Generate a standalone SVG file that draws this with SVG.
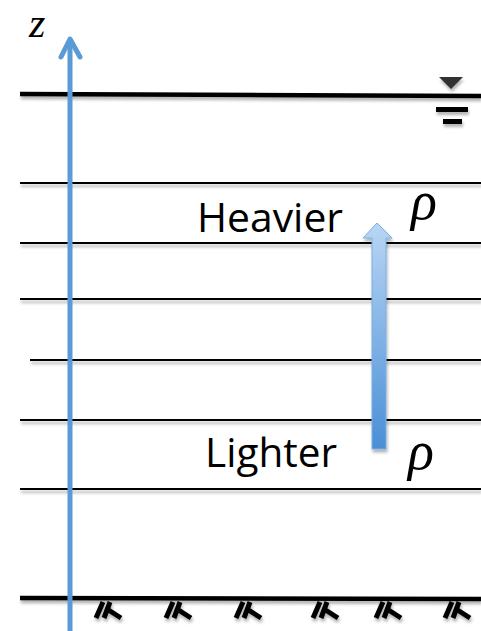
<svg xmlns="http://www.w3.org/2000/svg" width="481" height="631" viewBox="0 0 481 631">
<defs>
<style>
.thick{stroke:#000;stroke-width:4.5;fill:none}
.thin{stroke:#000;stroke-width:2;fill:none}
.hatch{stroke:#000;stroke-width:5;fill:none}
.lbl{font-family:"Open Sans","Liberation Sans",sans-serif;font-size:40px;fill:#000}
.sym{font-family:"Liberation Serif","DejaVu Serif",serif;font-style:italic;fill:#000}
</style>
<filter id="sh" x="-5%" y="-50%" width="110%" height="300%">
<feDropShadow dx="1" dy="3" stdDeviation="1.5" flood-color="#000" flood-opacity="0.3"/>
</filter>
<linearGradient id="ag" x1="0" y1="0" x2="0" y2="1">
<stop offset="0" stop-color="#b9d6f5"/>
<stop offset="1" stop-color="#4a8fd6"/>
</linearGradient>
</defs>
<rect width="481" height="631" fill="#fff"/>
<g id="layers" filter="url(#sh)">
<line class="thick" x1="20" y1="94" x2="481" y2="96"/>
<line class="thin" x1="20" y1="183" x2="481" y2="183"/>
<line class="thin" x1="20" y1="243" x2="481" y2="243"/>
<line class="thin" x1="20" y1="299" x2="481" y2="299"/>
<line class="thin" x1="30" y1="360" x2="481" y2="360"/>
<line class="thin" x1="20" y1="420" x2="481" y2="420"/>
<line class="thin" x1="20" y1="489" x2="481" y2="489"/>
<line class="thick" x1="20" y1="598" x2="481" y2="599"/>
</g>
<g id="surface-symbol" filter="url(#sh)">
<polygon points="439,77 463,77 451,89" fill="#333"/>
<rect x="436" y="107" width="32" height="5" fill="#000"/>
<rect x="443" y="119" width="19" height="5" fill="#000"/>
</g>
<g id="bed-hatching" filter="url(#sh)">
<g id="h1" transform="translate(93,0)"><path class="hatch" d="M10,602 L3,618 M17,602 L11,618 M14,609 L28,618"/></g>
<g id="h2" transform="translate(163,0)"><path class="hatch" d="M10,602 L3,618 M17,602 L11,618 M14,609 L28,618"/></g>
<g id="h3" transform="translate(233,0)"><path class="hatch" d="M10,602 L3,618 M17,602 L11,618 M14,609 L28,618"/></g>
<g id="h4" transform="translate(310,0)"><path class="hatch" d="M10,602 L3,618 M17,602 L11,618 M14,609 L28,618"/></g>
<g id="h5" transform="translate(373,0)"><path class="hatch" d="M10,602 L3,618 M17,602 L11,618 M14,609 L28,618"/></g>
<g id="h6" transform="translate(442,0)"><path class="hatch" d="M10,602 L3,618 M17,602 L11,618 M14,609 L28,618"/></g>
</g>
<g id="connectors">
<g id="z-axis">
<line x1="70" y1="40" x2="70" y2="631" stroke="#5b9bd5" stroke-width="5"/>
<polyline points="61,57 70,39 80,57" fill="none" stroke="#5b9bd5" stroke-width="5" stroke-linecap="round" stroke-linejoin="round"/>
</g>
<g id="density-arrow" filter="url(#sh)">
<polygon points="372,449 372,238 363,238 377,223 392,238 386,238 386,449" fill="url(#ag)" stroke="#7aaee3" stroke-width="1"/>
</g>
</g>
<g id="labels">
<text class="sym" x="29" y="37" font-size="42">z</text>
<text class="lbl" x="197" y="232" textLength="146" lengthAdjust="spacingAndGlyphs">Heavier</text>
<text class="lbl" x="205" y="467" textLength="132" lengthAdjust="spacingAndGlyphs">Lighter</text>
<text class="sym" x="411" y="219" font-size="54">ρ</text>
<text class="sym" x="408" y="469" font-size="54">ρ</text>
</g>
</svg>
